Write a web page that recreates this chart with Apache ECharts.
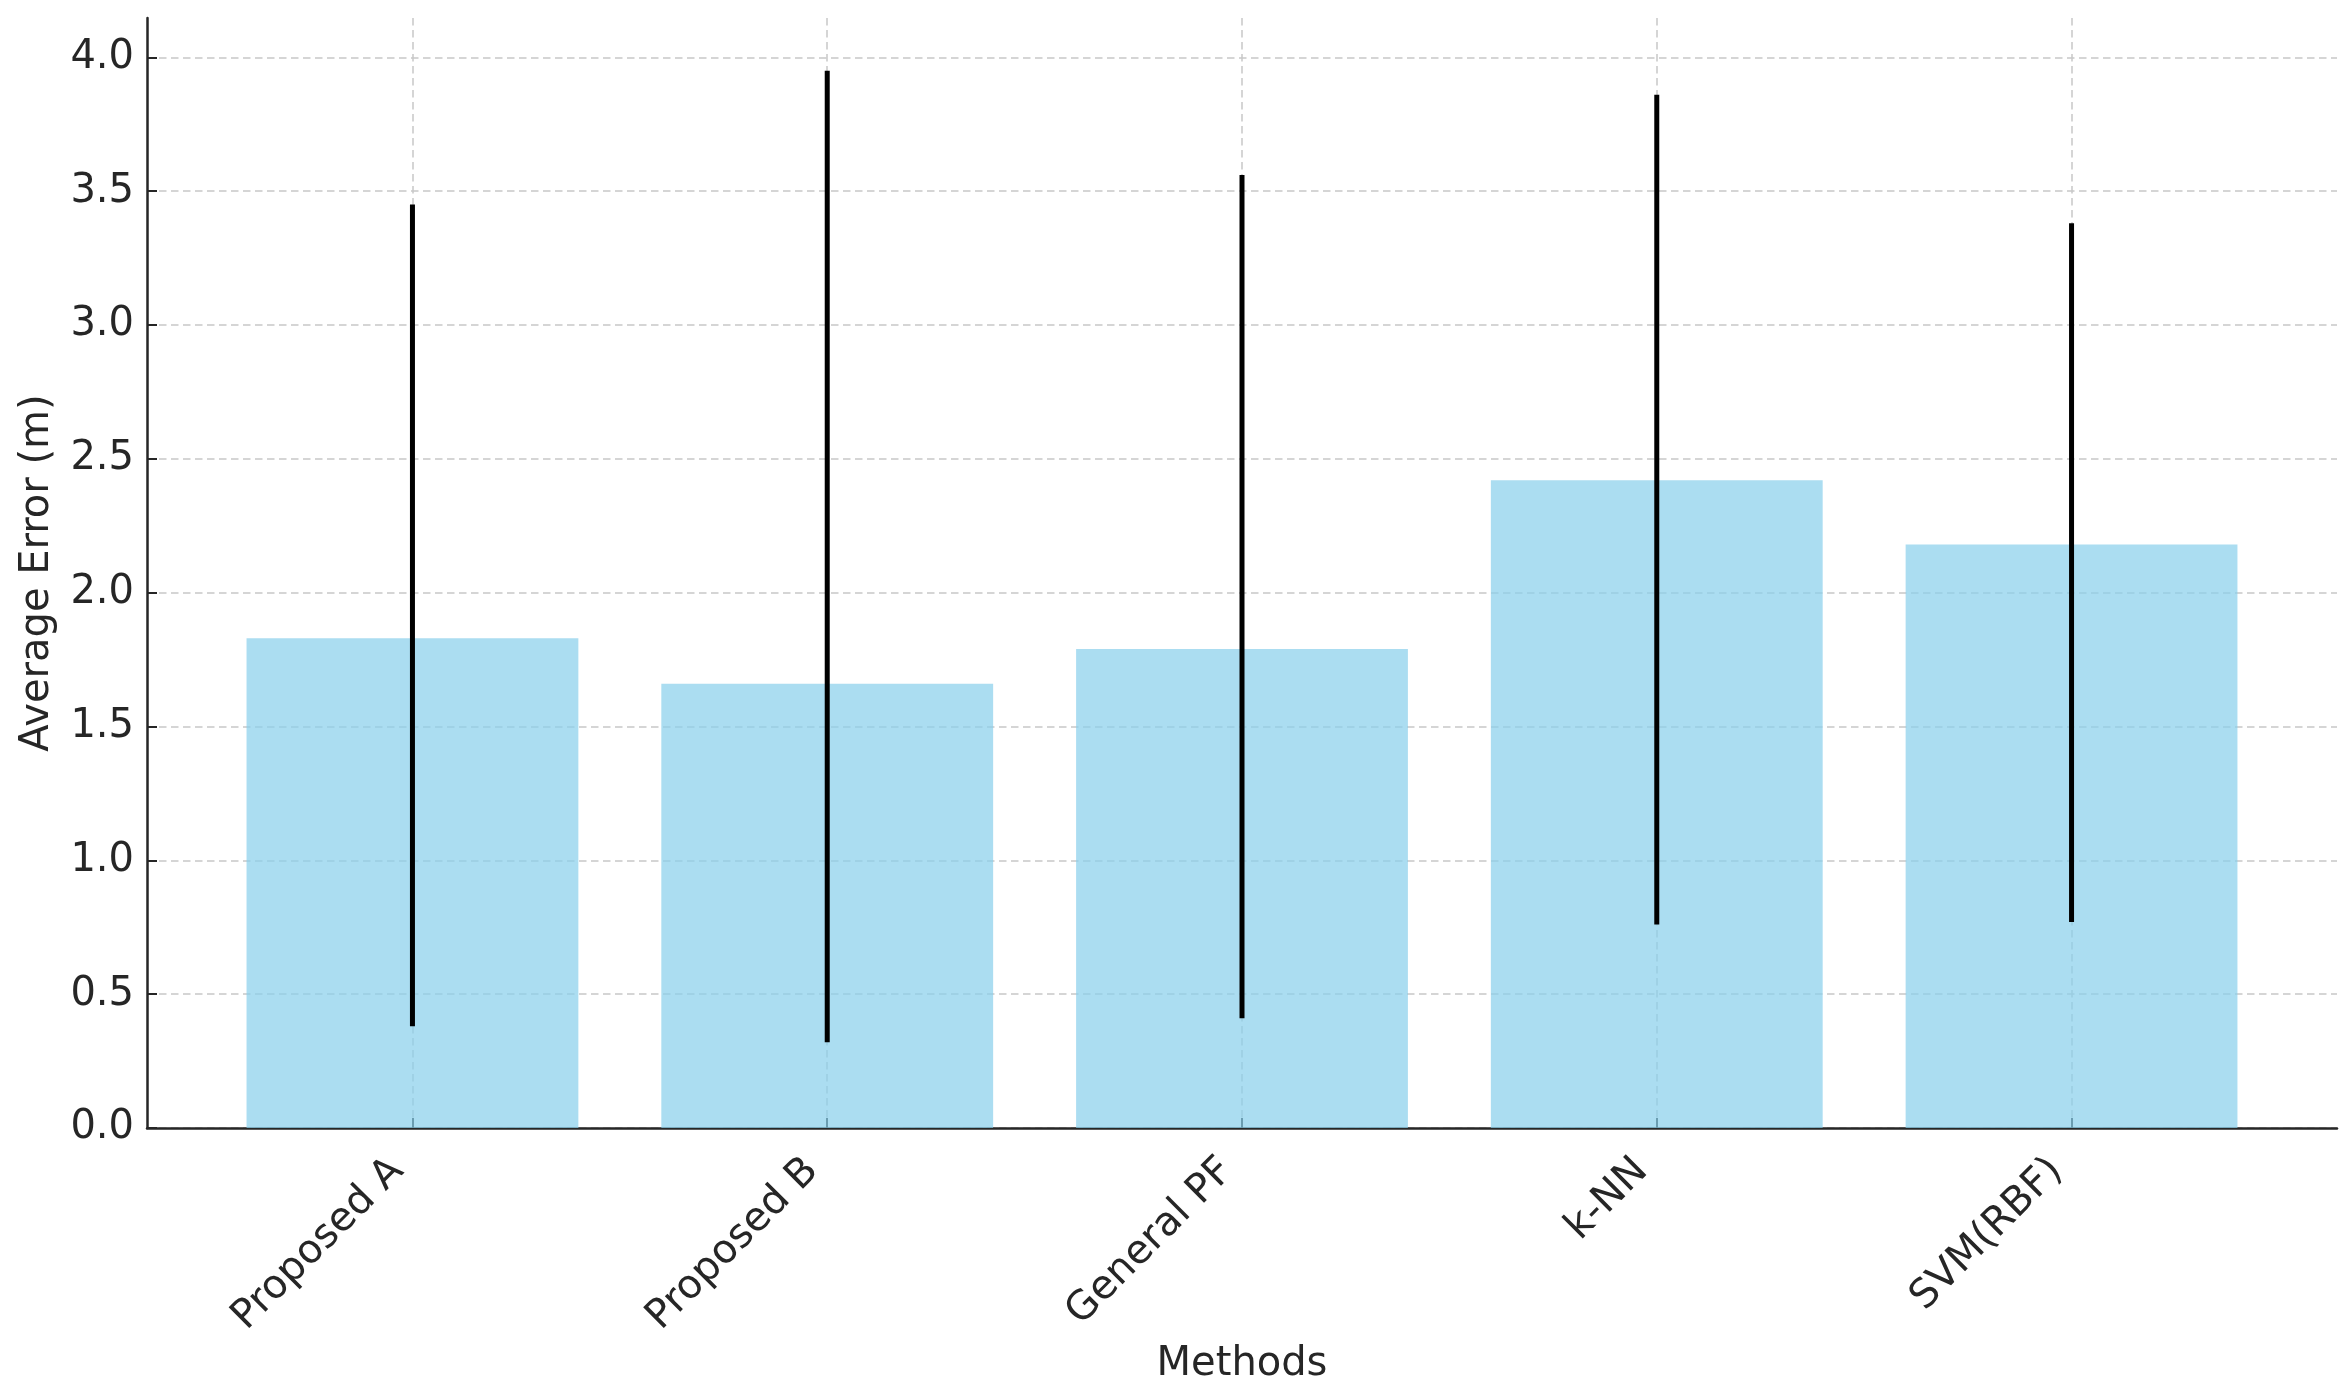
<!DOCTYPE html>
<html>
<head>
<meta charset="utf-8">
<script src="https://cdn.jsdelivr.net/npm/echarts@6/dist/echarts.min.js"></script>
<style>
html,body{margin:0;padding:0;background:#fff;}
#chart{width:2351px;height:1386px;}
</style>
</head>
<body>
<div id="chart"></div>
<script>
// ---- data ----
const categories = ['Proposed A', 'Proposed B', 'General PF', 'k-NN', 'SVM(RBF)'];
const meanError = [1.83, 1.66, 1.79, 2.42, 2.18];
const errLow = [0.38, 0.32, 0.41, 0.76, 0.77];
const errHigh = [3.45, 3.95, 3.56, 3.86, 3.38];
const yTicks = [0.0, 0.5, 1.0, 1.5, 2.0, 2.5, 3.0, 3.5, 4.0];
const xTicks = [0, 1, 2, 3, 4];

const barData = meanError.map((v, i) => [i, v]);
const errData = errLow.map((lo, i) => [i, lo, errHigh[i]]);

const FONT = 'DejaVu Sans';
const TXT = '#262626';
const FS = 40;
const chart = echarts.init(document.getElementById('chart'), null, {renderer: 'canvas'});
const gridLine = {show: true, lineStyle: {color: '#c8c8c8', width: 1.5, type: [7.5, 4.5]}};

chart.setOption({
  animation: false,
  backgroundColor: '#ffffff',
  grid: {left: 147, right: 14, top: 18, bottom: 258, containLabel: false, outerBoundsMode: 'none'},
  xAxis: {
    type: 'value',
    min: -0.64,
    max: 4.64,
    name: 'Methods',
    nameLocation: 'middle',
    nameGap: 206,
    nameTextStyle: {fontFamily: FONT, fontSize: FS, color: TXT},
    axisLine: {show: true, onZero: false, lineStyle: {color: TXT, width: 2.5}},
    axisTick: {show: true, inside: true, length: 10, customValues: xTicks, lineStyle: {color: TXT, width: 2}},
    axisLabel: {
      show: true, customValues: xTicks, rotate: 45, margin: 22,
      padding: [0, 21, 0, 0],
      fontFamily: FONT, fontSize: FS, color: TXT,
      formatter: v => categories[Math.round(v)] || ''
    },
    splitLine: gridLine
  },
  yAxis: {
    type: 'value',
    min: 0,
    max: 4.147,
    name: 'Average Error (m)',
    nameLocation: 'middle',
    nameGap: 89,
    nameTextStyle: {fontFamily: FONT, fontSize: FS, color: TXT},
    axisLine: {show: true, onZero: false, lineStyle: {color: TXT, width: 2.5}},
    axisTick: {show: true, inside: true, length: 10, customValues: yTicks, lineStyle: {color: TXT, width: 2}},
    axisLabel: {
      show: true, customValues: yTicks, margin: 13,
      fontFamily: FONT, fontSize: FS, color: TXT,
      formatter: v => Number(v).toFixed(1)
    },
    splitLine: gridLine
  },
  series: [
    {
      type: 'custom',
      name: 'bars',
      data: barData,
      z: 2,
      renderItem: function (params, api) {
        const x = api.value(0), y = api.value(1);
        const p0 = api.coord([x - 0.4, y]);
        const p1 = api.coord([x + 0.4, 0]);
        return {
          type: 'rect',
          shape: {x: p0[0], y: p0[1], width: p1[0] - p0[0], height: p1[1] - p0[1]},
          style: {fill: 'rgba(135,206,235,0.7)'}
        };
      }
    },
    {
      type: 'custom',
      name: 'errors',
      data: errData,
      z: 3,
      renderItem: function (params, api) {
        const x = api.value(0);
        const a = api.coord([x, api.value(1)]);
        const b = api.coord([x, api.value(2)]);
        return {
          type: 'line',
          shape: {x1: a[0], y1: a[1], x2: b[0], y2: b[1]},
          style: {stroke: '#000000', lineWidth: 5}
        };
      }
    }
  ]
});
</script>
</body>
</html>
